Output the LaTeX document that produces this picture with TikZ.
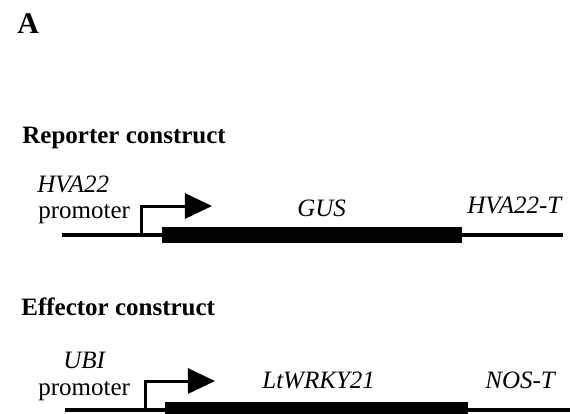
\documentclass[tikz,border=0pt]{standalone}
\usepackage{fontspec}
\setmainfont{Liberation Serif}
\usetikzlibrary{arrows.meta,positioning}

\begin{document}
\begin{tikzpicture}[x=0.5pt,y=-0.5pt,font=\fontsize{12.5pt}{14pt}\selectfont,
      lbl/.style={anchor=base west,inner sep=0pt},
      gene/.style={lbl,font=\fontsize{12.5pt}{14pt}\selectfont\itshape},
      title/.style={lbl,font=\fontsize{12.5pt}{14pt}\selectfont\bfseries},
      dna/.style={line width=1.6pt},
      orf/.style={fill=black,draw=none,minimum height=8pt,inner sep=0pt},
      tss/.style={line width=1.5pt,-{Triangle[length=13.5pt,width=12.5pt]}}]
    \useasboundingbox (0,0) rectangle (570,414);
    \node[lbl,font=\fontsize{15pt}{17pt}\selectfont\bfseries] (panel) at (17,33) {A};
    % reporter
    \node[title] (repT) at (22,143) {Reporter construct};
    \node[gene] (repP) at (37,192) {HVA22};
    \node[lbl] (repPr) at (38,218) {promoter};
    \node[gene] (repG) at (297,216) {GUS};
    \node[gene] (repTer) at (467,213) {HVA22-T};
    \coordinate (repL) at (62,235);
    \coordinate (repR) at (563,235);
    \coordinate (repS) at (142,235);
    \coordinate (repTip) at (212,206);
    \draw[dna] (repL) -- (repR);
    \node[orf,minimum width=150pt] (repBox) at (312,235) {};
    \draw[tss] (repS) |- (repTip);
    % effector
    \node[title] (effT) at (21,315) {Effector construct};
    \node[gene] (effP) at (63,368) {UBI};
    \node[lbl] (effPr) at (38,395) {promoter};
    \node[gene] (effG) at (262,388) {LtWRKY21};
    \node[gene] (effTer) at (485,388) {NOS-T};
    \coordinate (effL) at (65,410);
    \coordinate (effR) at (572,410);
    \coordinate (effS) at (146,410);
    \coordinate (effTip) at (215,381);
    \draw[dna] (effL) -- (effR);
    \node[orf,minimum width=151.5pt] (effBox) at (316.5,410) {};
    \draw[tss] (effS) |- (effTip);
\end{tikzpicture}
\end{document}
